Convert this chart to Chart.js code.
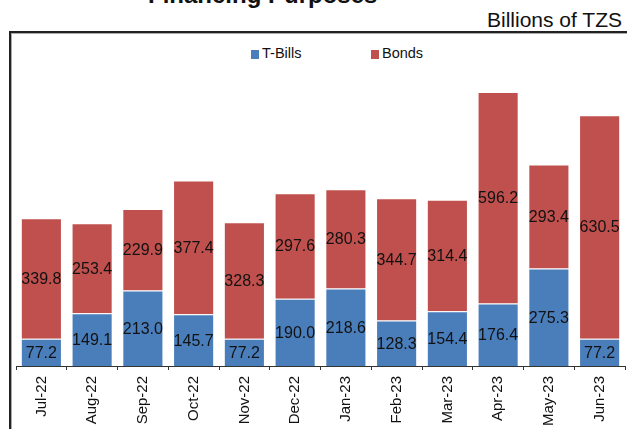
<!DOCTYPE html>
<html>
<head>
<meta charset="utf-8">
<script src="https://cdn.jsdelivr.net/npm/chart.js@4/dist/chart.umd.min.js"></script>
<style>
  html, body { margin: 0; padding: 0; background: #fff; }
  body { width: 627px; height: 429px; position: relative; overflow: hidden;
         font-family: "Liberation Sans", Arial, sans-serif; color: #111; }
  #frame { position: absolute; left: 9px; top: 31px; width: 700px; height: 500px;
           border-left: 2px solid #222; border-top: 2px solid #222;
           box-shadow: inset 1px 1px 0 #aaa; }
  #title { position: absolute; left: 148px; top: -20px; font-weight: bold;
           font-size: 24px; line-height: 30px; white-space: nowrap; color: #111; }
  #unit { position: absolute; right: 5px; top: 8px; font-size: 21px; line-height: 24px;
          white-space: nowrap; color: #111; }
  .lg { position: absolute; top: 44px; font-size: 14.5px; line-height: 18px; white-space: nowrap; }
  .lg i { display: inline-block; width: 8px; height: 9px; margin-right: 3px; vertical-align: -1px; }
  #wrap { position: absolute; left: 0; top: 0; width: 627px; height: 429px; }
</style>
</head>
<body>
<div id="frame"></div>
<div id="title">Financing Purposes</div>
<div id="unit">Billions of TZS</div>
<div class="lg" style="left:251px"><i style="background:#4A7EBB"></i>T-Bills</div>
<div class="lg" style="left:371px"><i style="background:#C0504D"></i>Bonds</div>
<div id="wrap"><canvas id="c" width="627" height="429"></canvas></div>
<script>
// monthly amounts, billions of TZS
const months = ['Jul-22', 'Aug-22', 'Sep-22', 'Oct-22', 'Nov-22', 'Dec-22',
                'Jan-23', 'Feb-23', 'Mar-23', 'Apr-23', 'May-23', 'Jun-23'];
const tBills = [77.2, 149.1, 213.0, 145.7, 77.2, 190.0, 218.6, 128.3, 154.4, 176.4, 275.3, 77.2];
const bonds  = [339.8, 253.4, 229.9, 377.4, 328.3, 297.6, 280.3, 344.7, 314.4, 596.2, 293.4, 630.5];

const BLUE = '#4A7EBB';
const RED = '#C0504D';

// value labels centred inside each stacked segment
const segmentLabels = {
  id: 'segmentLabels',
  afterDatasetsDraw(chart) {
    const ctx = chart.ctx;
    ctx.save();
    ctx.font = '16px "Liberation Sans", Arial, sans-serif';
    ctx.fillStyle = '#111';
    ctx.textAlign = 'center';
    ctx.textBaseline = 'middle';
    chart.data.datasets.forEach((ds, i) => {
      const meta = chart.getDatasetMeta(i);
      meta.data.forEach((bar, j) => {
        ctx.fillText(ds.data[j].toFixed(1), bar.x, (bar.y + bar.base) / 2 + 1);
      });
    });
    ctx.restore();
  }
};

new Chart(document.getElementById('c'), {
  type: 'bar',
  data: {
    labels: months,
    datasets: [
      { label: 'T-Bills', data: tBills, backgroundColor: BLUE,
        borderColor: 'rgba(255,255,255,0.35)', borderWidth: 1,
        barPercentage: 0.81, categoryPercentage: 1 },
      { label: 'Bonds', data: bonds, backgroundColor: RED,
        borderColor: 'rgba(255,255,255,0.35)', borderWidth: 1,
        barPercentage: 0.81, categoryPercentage: 1 },
    ],
  },
  options: {
    responsive: false,
    animation: false,
    layout: { padding: { left: 16, right: 2, top: 70, bottom: 0 } },
    scales: {
      x: {
        stacked: true,
        afterFit: (s) => { s.height = 63; },
        border: { display: true, color: '#333', width: 1 },
        grid: { display: true, drawOnChartArea: false, drawTicks: true,
                tickLength: 4, color: '#333', offset: true },
        ticks: { minRotation: 90, maxRotation: 90, padding: 6, color: '#111',
                 font: { family: '"Liberation Sans", Arial, sans-serif', size: 15 } },
      },
      y: {
        stacked: true,
        display: false,
        min: 0,
        max: 835,
      },
    },
    plugins: {
      legend: { display: false },
      tooltip: { enabled: false },
    },
  },
  plugins: [segmentLabels],
});
</script>
</body>
</html>
